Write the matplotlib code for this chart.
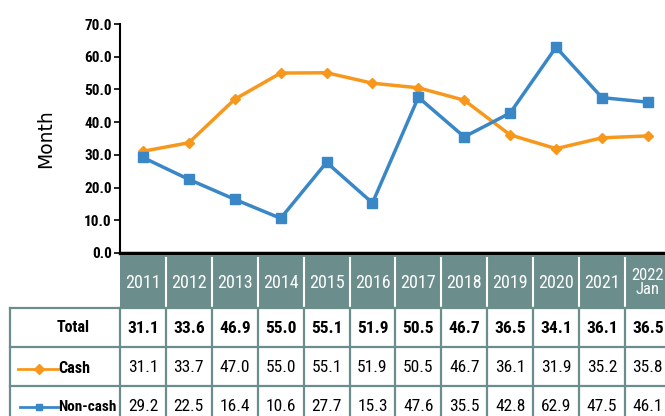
import numpy as np
import matplotlib.pyplot as plt
from matplotlib import font_manager
from matplotlib.patches import Rectangle

# data ----------------------------------------------------------------------
years = ["2011", "2012", "2013", "2014", "2015", "2016", "2017", "2018",
         "2019", "2020", "2021", "2022\nJan"]
total = [31.1, 33.6, 46.9, 55.0, 55.1, 51.9, 50.5, 46.7, 36.5, 34.1, 36.1, 36.5]
cash = [31.1, 33.7, 47.0, 55.0, 55.1, 51.9, 50.5, 46.7, 36.1, 31.9, 35.2, 35.8]
noncash = [29.2, 22.5, 16.4, 10.6, 27.7, 15.3, 47.6, 35.5, 42.8, 62.9, 47.5, 46.1]
yticks = np.arange(0, 71, 10)

orange = "#f7981d"
blue = "#3a87c8"
teal = "#6b8e8c"

# pick a narrow font if there is one
names = {f.name for f in font_manager.fontManager.ttflist}
narrow = "DejaVu Sans"
for n in ["Liberation Sans Narrow", "DejaVu Sans Condensed", "Roboto Condensed"]:
    if n in names:
        narrow = n
        break

W, H = 665, 416
fig = plt.figure(figsize=(W / 100, H / 100), dpi=100)

# column grid in pixels
x0, colw = 120, 45.9
ncol = len(years)
ax_bottom, ax_top = 253, 24

ax = fig.add_axes([x0 / W, (H - ax_bottom) / H, colw * ncol / W, (ax_bottom - ax_top) / H])
x = np.arange(ncol)
ax.plot(x, cash, color=orange, lw=2.5, marker="D", ms=5, zorder=3)
ax.plot(x, noncash, color=blue, lw=2.5, marker="s", ms=6.5, zorder=3)
ax.set_xlim(-0.5, ncol - 0.5)
ax.set_ylim(0, 70)
ax.set_yticks(yticks)
ax.set_yticklabels([f"{v:.1f}" for v in yticks], fontfamily=narrow,
                   fontweight="bold", fontsize=11)
ax.set_xticks([])
for s in ["top", "right"]:
    ax.spines[s].set_visible(False)
ax.spines["left"].set_linewidth(1.5)
ax.spines["bottom"].set_linewidth(2.5)
ax.tick_params(axis="y", length=4, width=1.2, pad=2)
ax.set_ylabel("Month", fontsize=13.5)
ax.yaxis.set_label_coords(-0.117, 0.5)
ax.patch.set_alpha(0)

# table drawn in pixel coordinates
tb = fig.add_axes([0, 0, 1, 1])
tb.set_xlim(0, W)
tb.set_ylim(H, 0)
tb.axis("off")

hdr_top, hdr_bot = 255, 308
rows = [308, 347, 386, 425]
left = 10

for i, yr in enumerate(years):
    cx = x0 + colw * (i + 0.5)
    tb.add_patch(Rectangle((x0 + colw * i, hdr_top), colw, hdr_bot - hdr_top,
                           facecolor=teal, edgecolor="none"))
    if i > 0:
        tb.plot([x0 + colw * i] * 2, [hdr_top + 3, hdr_bot - 2], color="white", lw=1.5)
    fs = 13 if "\n" not in yr else 12
    tb.text(cx, (hdr_top + hdr_bot) / 2 + 1, yr, color="white", ha="center",
            va="center", fontsize=fs, fontfamily=narrow, linespacing=0.9)

# cell borders
right = x0 + colw * ncol
for y in rows:
    tb.plot([left, right], [y, y], color=teal, lw=1.6)
tb.plot([left, left], [rows[0], rows[-1]], color=teal, lw=1.6)
for i in range(ncol + 1):
    tb.plot([x0 + colw * i] * 2, [rows[0], rows[-1]], color=teal, lw=1.6)

row_vals = [total, cash, noncash]
for r, vals in enumerate(row_vals):
    cy = (rows[r] + rows[r + 1]) / 2 + 1
    for i, v in enumerate(vals):
        tb.text(x0 + colw * (i + 0.5), cy, f"{v:.1f}", ha="center", va="center",
                fontsize=12.5, fontfamily=narrow,
                fontweight="bold" if r == 0 else "normal")

# row labels
tb.text(73, (rows[0] + rows[1]) / 2, "Total", ha="center", va="center",
        fontsize=11.5, fontweight="bold", fontfamily=narrow)
cy = (rows[1] + rows[2]) / 2 + 2
tb.plot([18, 58], [cy, cy], color=orange, lw=2)
tb.plot([39], [cy], color=orange, marker="D", ms=5)
tb.text(58, cy, "Cash", ha="left", va="center", fontsize=11.5,
        fontweight="bold", fontfamily=narrow)
cy = rows[2] + 21
tb.plot([20, 58], [cy, cy], color=blue, lw=2)
tb.plot([39], [cy], color=blue, marker="s", ms=5)
tb.text(58, cy, "Non-cash", ha="left", va="center", fontsize=11,
        fontweight="bold", fontfamily=narrow)

fig.savefig("out.png", dpi=100)
